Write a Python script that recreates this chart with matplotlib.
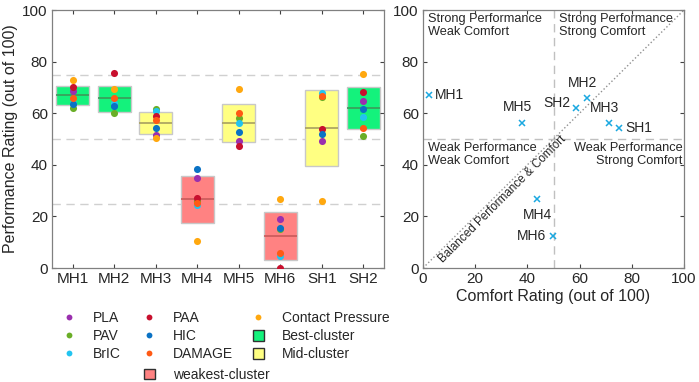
import matplotlib
matplotlib.use("Agg")
import matplotlib.pyplot as plt
from matplotlib.lines import Line2D
from matplotlib.patches import Patch
import numpy as np

plt.rcParams['font.family'] = ['Liberation Sans', 'DejaVu Sans']

designs = ["MH1", "MH2", "MH3", "MH4", "MH5", "MH6", "SH1", "SH2"]

# box statistics (performance rating)
q1 = [63.2, 60.3, 52.1, 17.6, 48.8, 3.2, 39.6, 53.7]
q3 = [70.7, 70.7, 60.4, 35.6, 63.6, 21.6, 69.0, 70.3]
median = [67.0, 65.7, 56.2, 26.6, 56.3, 12.3, 54.4, 61.9]
cluster = ["best", "best", "mid", "weak", "mid", "weak", "mid", "best"]

# individual metric ratings per design
metrics = {
    "PLA": [68.5, 63.0, 51.7, 34.9, 49.4, 18.9, 49.1, 64.6],
    "PAV": [61.9, 60.0, 61.7, 25.8, 58.2, 15.2, 66.2, 51.0],
    "BrIC": [64.0, 63.9, 60.7, 24.5, 56.2, 4.5, 67.7, 58.5],
    "PAA": [70.0, 75.4, 59.1, 27.2, 47.4, 0.0, 53.7, 68.1],
    "HIC": [63.6, 62.6, 54.2, 38.3, 52.8, 15.4, 52.1, 61.6],
    "DAMAGE": [65.9, 65.8, 57.5, 25.3, 60.0, 6.0, 66.8, 54.2],
    "Contact Pressure": [72.9, 69.4, 50.4, 10.3, 69.4, 26.6, 26.0, 75.2],
}
metric_colors = {
    "PLA": "#9A2FAE", "PAV": "#6AAE27", "BrIC": "#22C4F0", "PAA": "#C8102E",
    "HIC": "#0A72C4", "DAMAGE": "#FF5A14", "Contact Pressure": "#FFA80F",
}

comfort = [2.3, 62.8, 71.3, 43.8, 37.8, 49.8, 75.0, 58.7]

fill = {"best": "#14F27C", "mid": "#FFFF82", "weak": "#FF8282"}
med_col = {"best": "#3C9A5A", "mid": "#A8A060", "weak": "#C85A5A"}
txt = "#262626"

W, H = 699, 382
fig = plt.figure(figsize=(W / 100, H / 100), dpi=100)
ax1 = fig.add_axes([52 / W, 1 - 268 / H, 332 / W, 258 / H])
ax2 = fig.add_axes([423 / W, 1 - 268 / H, 261 / W, 258 / H])

x = np.arange(1, len(designs) + 1)

# --- left: box chart ---
for yv in (25, 50, 75):
    ax1.axhline(yv, color="#D0D0D0", ls=(0, (6, 4)), lw=1, zorder=0)
ax1.bar(x, np.array(q3) - np.array(q1), bottom=q1, width=0.8,
        color=[fill[c] for c in cluster], edgecolor="#C8C8C8", lw=1, zorder=1)
for xi, m, c in zip(x, median, cluster):
    ax1.hlines(m, xi - 0.4, xi + 0.4, color=med_col[c], lw=1.2, zorder=2)
for name, vals in metrics.items():
    ax1.scatter(x, vals, s=26, color=metric_colors[name], zorder=3, lw=0)

ax1.set_xlim(0.5, 8.5)
ax1.set_ylim(0, 100)
ax1.set_xticks(x, designs)
ax1.set_yticks([0, 20, 40, 60, 80, 100])
ax1.set_ylabel("Performance Rating (out of 100)", fontsize=11.5, color=txt,
               labelpad=3)

# --- right: comfort vs performance ---
ax2.axvline(50, color="#C0C0C0", ls=(0, (6, 4)), lw=1, zorder=0)
ax2.axhline(50, color="#C0C0C0", ls=(0, (6, 4)), lw=1, zorder=0)
ax2.plot([0, 100], [0, 100], ls=":", color="#909090", lw=1, zorder=0)
ax2.plot(comfort, median, "x", color="#1AA8E0", ms=4.5, mew=1.1, ls="none")

offsets = {"MH1": (4, 0, "left", "center"), "MH2": (-3, 6, "center", "bottom"),
           "MH3": (-3, 6, "center", "bottom"), "MH4": (0, -6, "center", "top"),
           "MH5": (-3, 6, "center", "bottom"), "MH6": (-5, 0, "right", "center"),
           "SH1": (5, 0, "left", "center"), "SH2": (-4, 4, "right", "center")}
for d, cx, py in zip(designs, comfort, median):
    dx, dy, ha, va = offsets[d]
    ax2.annotate(d, (cx, py), xytext=(dx, dy), textcoords="offset points",
                 ha=ha, va=va, fontsize=10, color=txt)

qfs = 9.2
ax2.text(2, 99, "Strong Performance\nWeak Comfort", ha="left", va="top",
         fontsize=qfs, color=txt, linespacing=1.15)
ax2.text(52, 99, "Strong Performance\nStrong Comfort", ha="left", va="top",
         fontsize=qfs, color=txt, linespacing=1.15)
ax2.text(2, 49, "Weak Performance\nWeak Comfort", ha="left", va="top",
         fontsize=qfs, color=txt, linespacing=1.15)
ax2.text(99.5, 49, "Weak Performance\nStrong Comfort", ha="right", va="top",
         fontsize=qfs, color=txt, linespacing=1.15, multialignment="right")
ax2.text(8.5, 1, "Balanced Performance & Comfort", rotation=45,
         rotation_mode="anchor", ha="left", va="bottom", fontsize=8.4, color=txt)

ax2.set_xlim(0, 100)
ax2.set_ylim(0, 100)
ax2.set_xticks([0, 20, 40, 60, 80, 100])
ax2.set_yticks([0, 20, 40, 60, 80, 100])
ax2.set_xlabel("Comfort Rating (out of 100)", fontsize=11.5, color=txt, labelpad=2)

for ax in (ax1, ax2):
    ax.tick_params(direction="in", length=3, width=0.8, top=True, right=True,
                   labelsize=11, colors="#404040", labelcolor=txt, pad=3)
    for sp in ax.spines.values():
        sp.set_color("#808080")
        sp.set_linewidth(0.9)

# --- legend (one block per column, like the original layout) ---
def dot(name):
    return Line2D([], [], marker="o", ls="none", ms=4.2, mew=0,
                  color=metric_colors[name], label=name)

def box(c, label):
    return Patch(facecolor=fill[c], edgecolor="#303030", lw=1, label=label)

columns = [
    ([dot("PLA"), dot("PAV"), dot("BrIC")], 63.5, 311),
    ([dot("PAA"), dot("HIC"), dot("DAMAGE")], 143.5, 311),
    ([dot("Contact Pressure"), box("best", "Best-cluster"),
      box("mid", "Mid-cluster")], 252.5, 311),
    ([box("weak", "weakest-cluster")], 143.5, 368),
]
for hs, lx, ty in columns:
    leg = fig.legend(handles=hs, loc="upper left",
                     bbox_to_anchor=(lx / W, 1 - ty / H), frameon=False,
                     fontsize=10, handlelength=0.8, handleheight=0.8,
                     handletextpad=1.3, labelspacing=0.3,
                     borderaxespad=0, borderpad=0)
    for t in leg.get_texts():
        t.set_color(txt)

fig.savefig("out.png", dpi=100)
